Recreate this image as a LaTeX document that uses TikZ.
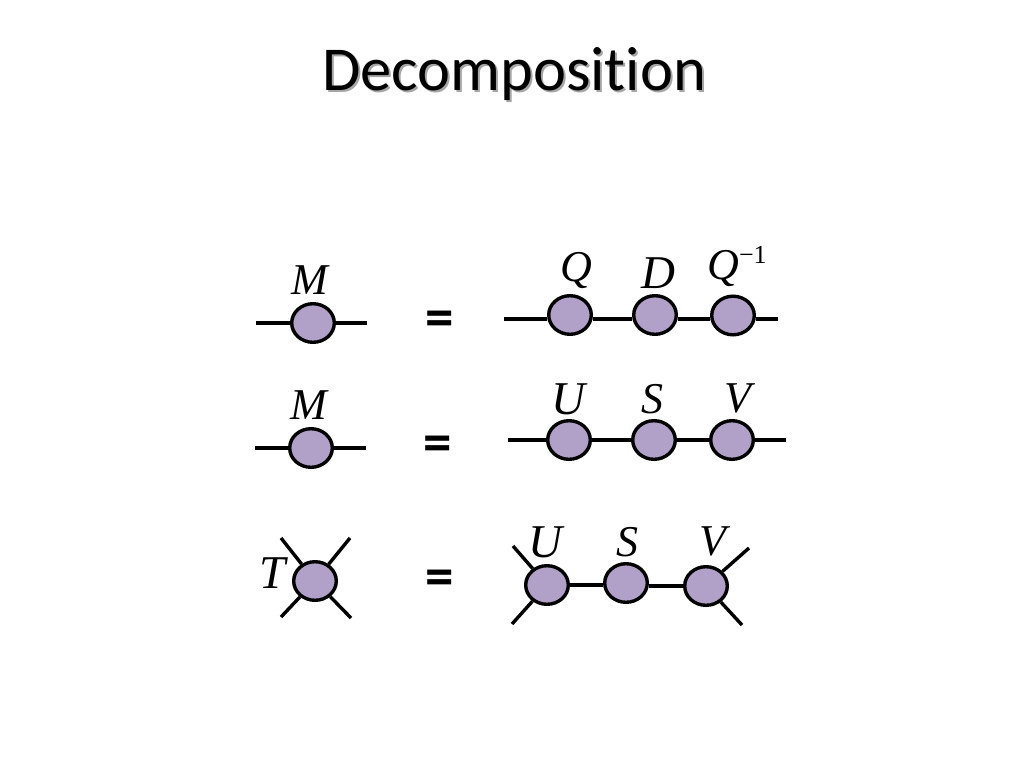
\documentclass[tikz,border=0pt]{standalone}
\usepackage{fontspec}
\setmainfont{Liberation Serif}
\newfontfamily\titlefont[Ligatures=NoCommon]{Carlito}
\usetikzlibrary{shapes.geometric}
\tikzset{
  x=1pt,y=-1pt,
  tensor/.style={ellipse,draw=black,fill=tenfill,line width=3.4pt,minimum width=42.6pt,minimum height=38.6pt,inner sep=0pt},
  wire/.style={line width=3.4pt,draw=black},
  lab/.style={anchor=base,inner sep=0pt,font=\fontsize{44}{44}\selectfont\itshape},
  biglab/.style={lab,font=\fontsize{47}{47}\selectfont\itshape},
  eqsign/.style={inner sep=0pt,font=\titlefont\bfseries\fontsize{57}{57}\selectfont},
  heading/.style={anchor=base,inner sep=0pt,font=\titlefont\fontsize{62.5}{62.5}\selectfont}
}
\definecolor{tenfill}{RGB}{177,160,199}
\begin{document}
\begin{tikzpicture}
\useasboundingbox (0,0) rectangle (1024,768);
\fill[white] (0,0) rectangle (1024,768);
% title
\node[heading,text=black!35] (titleshadow) at (516,92) {Decomposition};
\node[heading] (title) at (514,90) {Decomposition};
% row 1
\node[tensor] (m1) at (313,323) {};
\node[lab] (m1l) at (310,294) {M};
\coordinate (m1a) at (256,323); \coordinate (m1b) at (367,323);
\draw[wire] (m1a) -- (m1) (m1) -- (m1b);
\node[eqsign] (eq1) at (439.5,324) {=};
\node[tensor] (q) at (570,315) {};
\node[tensor] (d) at (655,315) {};
\node[tensor] (qi) at (733,315.5) {};
\node[lab] (ql) at (576,281) {Q};
\node[biglab] (dl) at (658,288) {D};
\node[lab] (qil) at (737,279) {Q\raisebox{16pt}{\fontsize{26}{26}\selectfont\upshape −1}};
\coordinate (w1a) at (504,319); \coordinate (w1b) at (778,319);
\draw[wire] (w1a) -- (w1a -| q.west);
\draw[wire] (w1a -| q.east) -- (w1a -| d.west);
\draw[wire] (w1a -| d.east) -- (w1a -| qi.west);
\draw[wire] (w1a -| qi.east) -- (w1b);
% row 2
\node[tensor] (m2) at (311,448) {};
\node[lab] (m2l) at (309,419) {M};
\coordinate (m2a) at (255,448); \coordinate (m2b) at (366,448);
\draw[wire] (m2a) -- (m2) (m2) -- (m2b);
\node[eqsign] (eq2) at (437.5,449) {=};
\node[tensor] (u2) at (569,440) {};
\node[tensor] (s2) at (654,440) {};
\node[tensor] (v2) at (732,440) {};
\node[biglab] (u2l) at (568,414) {U};
\node[lab] (s2l) at (652,413) {S};
\node[lab] (v2l) at (738,412) {V};
\coordinate (w2a) at (508,440); \coordinate (w2b) at (786,440);
\draw[wire] (w2a) -- (u2);
\draw[wire] (u2) -- (s2);
\draw[wire] (s2) -- (v2);
\draw[wire] (v2) -- (w2b);
% row 3
\node[tensor] (t) at (315,581) {};
\node[biglab] (tl) at (273,588) {T};
\coordinate (ta) at (281,538); \coordinate (tb) at (350,538);
\coordinate (tc) at (281,617); \coordinate (td) at (351,618);
\draw[wire] (ta) -- (t) (tb) -- (t) (tc) -- (t) (td) -- (t);
\node[eqsign] (eq3) at (439.5,583) {=};
\node[tensor] (u3) at (547,585) {};
\node[tensor] (s3) at (626,583) {};
\node[tensor] (v3) at (706,586) {};
\node[biglab] (u3l) at (545,557) {U};
\node[lab] (s3l) at (627,556) {S};
\node[lab] (v3l) at (713,555) {V};
\coordinate (ua) at (513,546); \coordinate (ub) at (512,624);
\coordinate (va) at (749,548); \coordinate (vb) at (742,625);
\draw[wire] (ua) -- (u3) (ub) -- (u3);
\draw[wire] (u3.east) -- (u3.east -| s3.west);
\draw[wire] (v3.west -| s3.east) -- (v3.west);
\draw[wire] (va) -- (v3) (vb) -- (v3);
\end{tikzpicture}
\end{document}
